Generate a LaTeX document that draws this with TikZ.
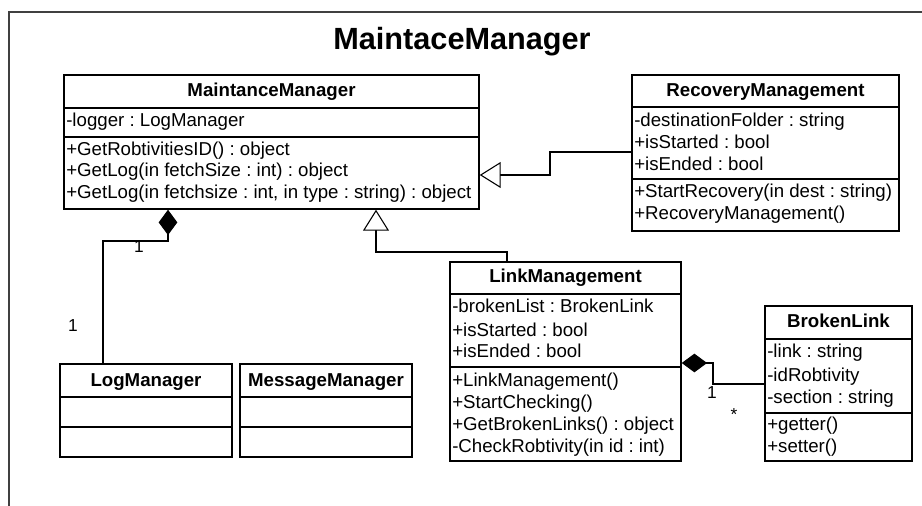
\documentclass[tikz,border=0pt]{standalone}
\usepackage{fontspec}
\setmainfont{Liberation Sans}
\usetikzlibrary{arrows.meta,fit}
\frenchspacing
\begin{document}
\begin{tikzpicture}[x=0.75pt,y=-0.75pt,
  classbox/.style={draw, line width=1.1pt, inner sep=0pt},
  divider/.style={line width=1.1pt},
  member/.style={anchor=base west, inner sep=0pt, font=\fontsize{14}{16}\selectfont},
  cname/.style={anchor=base, inner sep=0pt, font=\fontsize{14}{16}\selectfont\bfseries},
  conn/.style={line width=0.8pt},
  generalization/.style={conn, -{Triangle[open, fill=white, length=15.75pt, width=19.5pt]}},
  composition/.style={conn, -{Diamond[fill=black, length=19pt, width=14pt]}},
  mult/.style={anchor=base, inner sep=0pt, font=\fontsize{13}{15}\selectfont},
  titletext/.style={anchor=base, inner sep=0pt, font=\fontsize{23}{27}\selectfont\bfseries},
]
\useasboundingbox (0,0) rectangle (922,506);

% package frame
\draw[black!75, line width=1.5pt] (922,12) -- (9,12) -- (9,506);
\node[titletext] (title) at (462,50) {MaintaceManager};

% MaintanceManager
\node[classbox, fit={(64,75)(479,209)}] (mm) {};
\node[cname] (mm-name) at (271.5,97) {MaintanceManager};
\draw[divider] (64,108) -- (479,108);
\draw[divider] (64,137) -- (479,137);
\node[member] (mm-a1) at (66,127) {-logger : LogManager};
\node[member] (mm-m1) at (66,156) {+GetRobtivitiesID() : object};
\node[member] (mm-m2) at (66,177) {+GetLog(in fetchSize : int) : object};
\node[member] (mm-m3) at (66,199) {+GetLog(in fetchsize : int, in type : string) : object};

% RecoveryManagement
\node[classbox, fit={(632,75)(899,231)}] (rm) {};
\node[cname] (rm-name) at (765.5,97) {RecoveryManagement};
\draw[divider] (632,107) -- (899,107);
\draw[divider] (632,179) -- (899,179);
\node[member] (rm-a1) at (634,127) {-destinationFolder : string};
\node[member] (rm-a2) at (634,149) {+isStarted : bool};
\node[member] (rm-a3) at (634,171) {+isEnded : bool};
\node[member] (rm-m1) at (634,198) {+StartRecovery(in dest : string)};
\node[member] (rm-m2) at (634,220) {+RecoveryManagement()};

% LinkManagement
\node[classbox, fit={(450,262)(681,461)}] (lm) {};
\node[cname] (lm-name) at (565.5,283) {LinkManagement};
\draw[divider] (450,294) -- (681,294);
\draw[divider] (450,367) -- (681,367);
\node[member] (lm-a1) at (452,313) {-brokenList : BrokenLink};
\node[member] (lm-a2) at (452,336) {+isStarted : bool};
\node[member] (lm-a3) at (452,358) {+isEnded : bool};
\node[member] (lm-m1) at (452,387) {+LinkManagement()};
\node[member] (lm-m2) at (452,408) {+StartChecking()};
\node[member] (lm-m3) at (452,430) {+GetBrokenLinks() : object};
\node[member] (lm-m4) at (452,452) {-CheckRobtivity(in id : int)};

% BrokenLink
\node[classbox, fit={(765,306)(912,461)}] (bl) {};
\node[cname] (bl-name) at (838.5,328) {BrokenLink};
\draw[divider] (765,339) -- (912,339);
\draw[divider] (765,413) -- (912,413);
\node[member] (bl-a1) at (767,358) {-link : string};
\node[member] (bl-a2) at (767,381) {-idRobtivity};
\node[member] (bl-a3) at (767,403) {-section : string};
\node[member] (bl-m1) at (767,430) {+getter()};
\node[member] (bl-m2) at (767,452) {+setter()};

% LogManager
\node[classbox, fit={(60,364)(232,457)}] (logm) {};
\node[cname] (logm-name) at (146,387) {LogManager};
\draw[divider] (60,397) -- (232,397);
\draw[divider] (60,427) -- (232,427);

% MessageManager
\node[classbox, fit={(240,364)(412,457)}] (msgm) {};
\node[cname] (msgm-name) at (326,387) {MessageManager};
\draw[divider] (240,397) -- (412,397);
\draw[divider] (240,427) -- (412,427);

% generalizations
\coordinate (r1) at (550,152);
\coordinate (r2) at (550,175);
\draw[generalization] (rm.west |- r1) -- (r1) -- (r2) -- (r2 -| mm.east);

\coordinate (l1) at (507,252);
\coordinate (l2) at (376,252);
\draw[generalization] (l1 |- lm.north) -- (l1) -- (l2) -- (l2 |- mm.south);

% compositions
\coordinate (c1) at (103,241);
\coordinate (c2) at (168,241);
\draw[composition] (c1 |- logm.north) -- (c1) -- (c2) -- (c2 |- mm.south);

\coordinate (b1) at (713,384);
\coordinate (b2) at (713,363);
\draw[composition] (bl.west |- b1) -- (b1) -- (b2) -- (b2 -| lm.east);

% multiplicities
\node[mult] (mult1) at (139,253) {1};
\node[mult] (mult2) at (73,331) {1};
\node[mult] (mult3) at (712,398) {1};
\node[mult] (mult4) at (734,420) {*};
\end{tikzpicture}
\end{document}
